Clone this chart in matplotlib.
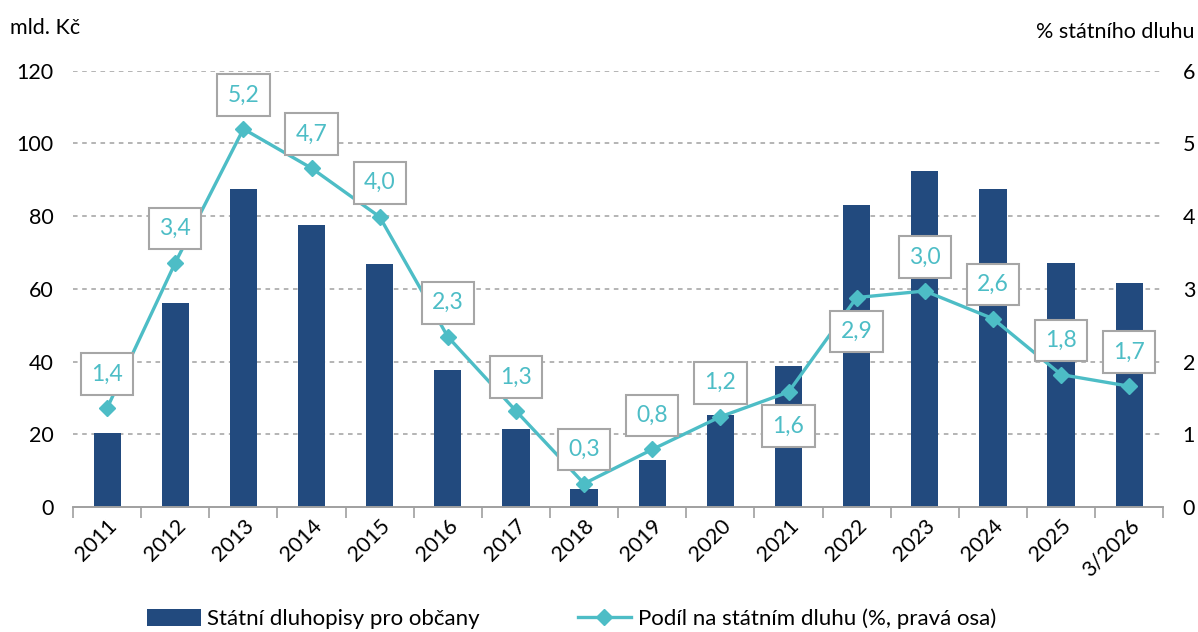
import matplotlib
matplotlib.use("Agg")
import matplotlib.pyplot as plt
import numpy as np

plt.rcParams['font.family'] = ['Lato', 'DejaVu Sans']

years = ['2011', '2012', '2013', '2014', '2015', '2016', '2017', '2018',
         '2019', '2020', '2021', '2022', '2023', '2024', '2025', '3/2026']
bonds = [20.3, 56.0, 87.4, 77.6, 66.8, 37.6, 21.4, 5.0,
         12.8, 25.3, 38.7, 83.2, 92.4, 87.4, 67.2, 61.5]
share = [1.36, 3.36, 5.2, 4.66, 3.99, 2.34, 1.32, 0.32,
         0.79, 1.24, 1.58, 2.88, 2.97, 2.59, 1.82, 1.66]
# label placement: 1 = above the point, -1 = below
label_side = [1, 1, 1, 1, 1, 1, 1, 1, 1, 1, -1, -1, 1, 1, 1, 1]

bar_color = '#224A7E'
line_color = '#4DBDC6'
grid_color = '#A0A0A0'

fig = plt.figure(figsize=(11.98, 6.32), dpi=100)
ax = fig.add_axes([0.061, 0.198, 0.910, 0.690])
ax2 = ax.twinx()

x = np.arange(len(years))
ax.bar(x, bonds, width=0.4, color=bar_color, zorder=2,
       label='Státní dluhopisy pro občany')
ax2.plot(x, share, color=line_color, lw=2.4, marker='D', ms=8,
         zorder=3, label='Podíl na státním dluhu (%, pravá osa)')

for xi, v, side in zip(x, share, label_side):
    ax2.annotate(f'{v:.1f}'.replace('.', ','), (xi, v),
                 xytext=(0, 24.5 * side), textcoords='offset points',
                 ha='center', va='center', fontsize=16.5, color=line_color,
                 bbox=dict(boxstyle='square,pad=0.45', fc='white',
                           ec='#A6A6A6', lw=1.5), zorder=5)

ax.set_xlim(-0.5, len(years) - 0.5)
ax.set_ylim(0, 120)
ax2.set_ylim(0, 6)
ax.set_yticks(np.arange(0, 121, 20))
ax2.set_yticks(np.arange(0, 7, 1))

for a in (ax, ax2):
    for s in ('top', 'left', 'right'):
        a.spines[s].set_visible(False)
    a.spines['bottom'].set_color(grid_color)
    a.spines['bottom'].set_linewidth(1.2)
    a.tick_params(axis='y', length=0, labelsize=15.5, pad=14)

ax.yaxis.grid(True, ls=(0, (3, 3)), color=grid_color, lw=1.1, zorder=0)
ax.set_axisbelow(True)
ax.get_ygridlines()[0].set_visible(False)
ax2.set_zorder(ax.get_zorder() + 1)
ax2.patch.set_visible(False)

ax.set_xticks(x)
ax.set_xticklabels(years, rotation=45, ha='right', rotation_mode='anchor',
                   fontsize=15.5)
ax.tick_params(axis='x', length=0, pad=6)
ax.set_xticks(np.arange(-0.5, len(years)), minor=True)
ax.tick_params(axis='x', which='minor', length=8, color=grid_color, width=1.2)

fig.text(0.008, 0.955, 'mld. Kč', fontsize=15.5, ha='left', va='center')
fig.text(0.997, 0.950, '% státního dluhu', fontsize=15.5, ha='right', va='center')

h1, l1 = ax.get_legend_handles_labels()
h2, l2 = ax2.get_legend_handles_labels()
fig.legend(h1 + h2, l1 + l2, loc='lower left', bbox_to_anchor=(0.123, 0.005),
           ncol=2, frameon=False, fontsize=16, handlelength=2.4,
           handleheight=0.8, columnspacing=4.4, handletextpad=0.3,
           borderpad=0, borderaxespad=0)

fig.savefig('out.png', dpi=100)
